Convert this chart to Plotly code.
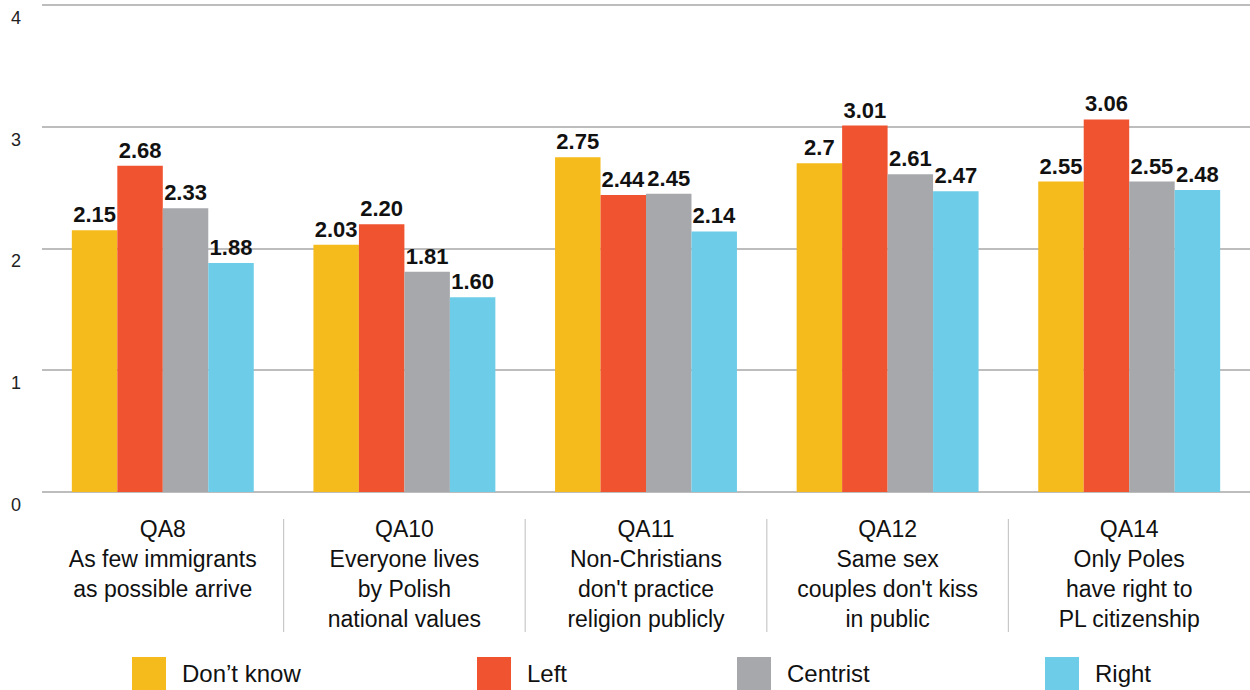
import plotly.graph_objects as go

categories = ["QA8", "QA10", "QA11", "QA12", "QA14"]
category_labels = [
    "QA8<br>As few immigrants<br>as possible arrive",
    "QA10<br>Everyone lives<br>by Polish<br>national values",
    "QA11<br>Non-Christians<br>don't practice<br>religion publicly",
    "QA12<br>Same sex<br>couples don't kiss<br>in public",
    "QA14<br>Only Poles<br>have right to<br>PL citizenship",
]
series_names = ["Don’t know", "Left", "Centrist", "Right"]
dont_know = [2.15, 2.03, 2.75, 2.70, 2.55]
left = [2.68, 2.20, 2.44, 3.01, 3.06]
centrist = [2.33, 1.81, 2.45, 2.61, 2.55]
right = [1.88, 1.60, 2.14, 2.47, 2.48]
dont_know_text = ["2.15", "2.03", "2.75", "2.7", "2.55"]
left_text = ["2.68", "2.20", "2.44", "3.01", "3.06"]
centrist_text = ["2.33", "1.81", "2.45", "2.61", "2.55"]
right_text = ["1.88", "1.60", "2.14", "2.47", "2.48"]
y_ticks = [0, 1, 2, 3, 4]

colors = ["#F5BA1B", "#F05330", "#A7A8AB", "#6DCCE7"]
values = [dont_know, left, centrist, right]
texts = [dont_know_text, left_text, centrist_text, right_text]

W, H = 1250, 690
ML, MR, MT, MB = 42, 0, 1, 198
PW, PH = W - ML - MR, H - MT - MB
Y_TOP = 4 * PH / 487.0

def px_x(px):
    return (px - ML) / PW

def px_y(py):
    return (H - MB - py) / PH

label_font = dict(family="Liberation Sans, Arial", size=22, color="#111111")

fig = go.Figure()
for name, vals, txt, col in zip(series_names, values, texts, colors):
    fig.add_trace(go.Bar(
        name=name, x=categories, y=vals, marker=dict(color=col, line=dict(width=0)),
        text=txt, textposition="outside", textfont=label_font,
        texttemplate="<b>%{text}</b>", constraintext="none", cliponaxis=False,
        showlegend=False, hoverinfo="skip",
    ))

shapes = []
# separators between category labels
for i in range(len(categories) - 1):
    shapes.append(dict(type="line", xref="x", yref="paper", x0=i + 0.5, x1=i + 0.5,
                       y0=px_y(519), y1=px_y(632), line=dict(color="#C8C8C8", width=1.2)))

annotations = []
# manual legend
legend_px = [132, 477, 737, 1045]
for name, col, lx in zip(series_names, colors, legend_px):
    shapes.append(dict(type="rect", xref="paper", yref="paper", x0=px_x(lx), x1=px_x(lx + 34),
                       y0=px_y(691), y1=px_y(657), fillcolor=col, line=dict(width=0)))
    annotations.append(dict(xref="paper", yref="paper", x=px_x(lx + 48), y=px_y(673),
                            xanchor="left", yanchor="middle", text=name, showarrow=False,
                            font=dict(family="Liberation Sans, Arial", size=24, color="#111111")))

fig.update_layout(
    width=W, height=H,
    margin=dict(l=ML, r=MR, t=MT, b=MB, pad=0),
    paper_bgcolor="white", plot_bgcolor="white",
    barmode="group", bargap=0.247, bargroupgap=0,
    shapes=shapes, annotations=annotations,
    xaxis=dict(
        tickmode="array", tickvals=categories, ticktext=category_labels,
        tickfont=dict(family="Liberation Sans, Arial", size=23, color="#111111"),
        showgrid=False, showline=False, zeroline=False, ticks="",
        ticklabelstandoff=21,
    ),
    yaxis=dict(
        range=[0, Y_TOP], tickvals=y_ticks, showgrid=True, gridcolor="#BDBDBD", gridwidth=2,
        zeroline=True, zerolinecolor="#BDBDBD", zerolinewidth=2, showline=False, ticks="",
        tickfont=dict(family="Liberation Sans, Arial", size=18, color="#222222"),
        ticklabelposition="outside bottom", ticklabelstandoff=20,
    ),
)

fig.write_html("out.html", config={"displayModeBar": False},
               post_script="document.body.style.margin='0';document.body.style.overflow='hidden';")
